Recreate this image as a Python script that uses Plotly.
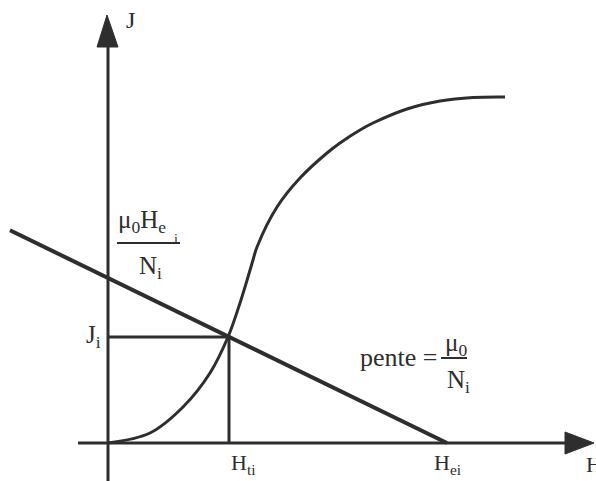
import plotly.graph_objects as go

# Magnetisation curve J(H) of the material (arbitrary units)
curve_H = [0, 42, 75, 102, 120, 132, 140, 145, 149, 169, 192, 219, 232, 252, 265, 299, 332, 365, 397]
curve_J = [0, 10, 36, 70, 106, 140, 166, 183, 196, 236, 265, 290, 300, 313, 320, 334, 342, 345.5, 346]

# Load line: J = (mu0 / Ni) * (He_i - H)
He_i = 339
J_intercept = 165          # mu0 * He_i / Ni
load_H = [-98, He_i]
load_J = [J_intercept * (1 - h / He_i) for h in load_H]

# Operating point
Ht_i = 121
J_i = J_intercept * (1 - Ht_i / He_i)

INK = "#2e2e2e"
SERIF = "Liberation Serif, Times New Roman, serif"

fig = go.Figure()

# magnetisation curve
fig.add_trace(go.Scatter(x=curve_H, y=curve_J, mode="lines",
                         line=dict(color=INK, width=3, shape="spline", smoothing=1.0),
                         hoverinfo="skip"))
# load line
fig.add_trace(go.Scatter(x=load_H, y=load_J, mode="lines",
                         line=dict(color=INK, width=4), hoverinfo="skip"))
# projection of the operating point
fig.add_trace(go.Scatter(x=[0, Ht_i, Ht_i], y=[J_i, J_i, 0], mode="lines",
                         line=dict(color=INK, width=3), hoverinfo="skip"))

shapes = [
    # axes
    dict(type="line", x0=0, y0=-38, x1=0, y1=400, line=dict(color=INK, width=3)),
    dict(type="line", x0=-30, y0=0, x1=460, y1=0, line=dict(color=INK, width=3)),
    # arrow heads
    dict(type="path", path="M -1 428 L -11 396 L 10 396 Z", fillcolor=INK, line=dict(color=INK, width=1)),
    dict(type="path", path="M 486 0 L 457 11 L 457 -11 Z", fillcolor=INK, line=dict(color=INK, width=1)),
    # fraction bars
    dict(type="line", x0=9, y0=200, x1=72, y1=200, line=dict(color=INK, width=2)),
    dict(type="line", x0=333, y0=85, x1=359, y1=85, line=dict(color=INK, width=2)),
]

def txt(x, y, text, size=25, xanchor="center"):
    return dict(x=x, y=y, text=text, showarrow=False, xanchor=xanchor, yanchor="middle",
                font=dict(family=SERIF, size=size, color=INK))

annotations = [
    txt(16, 423, "J", size=24, xanchor="left"),
    txt(8, 222, "μ<sub>0</sub>H<sub>e</sub>", xanchor="left"),
    txt(64, 204, "i", size=14, xanchor="left"),
    txt(42, 176, "N<sub>i</sub>"),
    txt(-5, 107, "J<sub>i</sub>", xanchor="right"),
    txt(135, -21, "H<sub>ti</sub>", size=22),
    txt(339, -21, "H<sub>ei</sub>", size=22),
    txt(476, -21, "H", size=22, xanchor="left"),
    txt(331, 86, "pente =", size=26, xanchor="right"),
    txt(348, 99, "μ<sub>0</sub>"),
    txt(350, 62, "N<sub>i</sub>"),
]

fig.update_layout(
    width=596, height=481,
    margin=dict(l=0, r=0, t=0, b=0),
    paper_bgcolor="white", plot_bgcolor="white",
    showlegend=False,
    xaxis=dict(range=[-108, 488], visible=False, fixedrange=True),
    yaxis=dict(range=[-38, 443], visible=False, fixedrange=True),
    shapes=shapes, annotations=annotations,
)

fig.write_html("out.html")
